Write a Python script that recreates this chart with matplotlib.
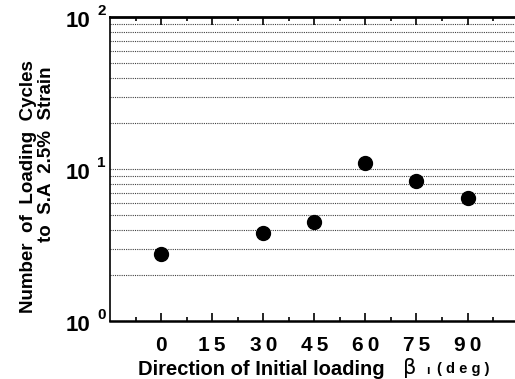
import numpy as np
import matplotlib.pyplot as plt
from matplotlib.ticker import FixedLocator
from matplotlib.transforms import offset_copy, blended_transform_factory

plt.rcParams['font.family'] = ['Liberation Sans', 'DejaVu Sans']
plt.rcParams['font.weight'] = 'bold'

# data
beta = [0, 30, 45, 60, 75, 90]
cycles = [2.76, 3.8, 4.5, 10.9, 8.35, 6.45]
xticks = [0, 15, 30, 45, 60, 75, 90]
yticks = [1, 10, 100]
yexps = ['0', '1', '2']

fig = plt.figure(figsize=(5.15, 3.79), dpi=100)
ax = fig.add_axes([0.2136, 0.153, 0.80, 0.802])

# dotted horizontal grid at every decade step
grid_vals = [m * 10 ** d for d in range(2) for m in range(1, 10)] + [100]
for g in grid_vals:
    ax.axhline(g, color='0.25', linestyle=(0, (1, 1)), linewidth=0.8, zorder=1)

ax.scatter(beta, cycles, s=100, color='black', zorder=3)

ax.set_yscale('log')
ax.set_ylim(1, 100)
ax.set_xlim(-15, 106)

# y tick labels drawn as "10" plus a separate superscript
ax.set_yticks([])
ax.yaxis.set_minor_locator(FixedLocator([]))
trans = blended_transform_factory(ax.transAxes, ax.transData)
for yv, ex in zip(yticks, yexps):
    ax.text(0, yv, '10', fontsize=16, ha='right', va='center',
            transform=offset_copy(trans, fig, x=-20, y=-4, units='dots'))
    ax.text(0, yv, ex, fontsize=11, ha='left', va='center',
            transform=offset_copy(trans, fig, x=-13, y=6, units='dots'))

ax.set_xticks(xticks, ['\u2009'.join(str(t)) for t in xticks], fontsize=15)
ax.xaxis.set_minor_locator(FixedLocator(np.arange(-7.5, 106, 15)))
ax.tick_params(axis='x', which='major', direction='in', length=6, width=1.2,
               top=True, pad=11)
ax.tick_params(axis='x', which='minor', direction='in', length=3, width=1.2,
               top=True)

ax.spines['right'].set_visible(False)
ax.spines['top'].set_linewidth(2)
ax.spines['bottom'].set_linewidth(1.8)
ax.spines['left'].set_linewidth(1.2)

# y axis title, two lines aligned at the top
fig.text(0.056, 1 - 187 / 379, 'Number  of  Loading  Cycles', fontsize=13.5,
         rotation=90, ha='center', va='center')
fig.text(0.091, 1 - 154 / 379, 'to  S.A  2.5%  Strain', fontsize=13.5,
         rotation=90, ha='center', va='center')

fig.text(0.507, 0.026, 'Direction of Initial loading', fontsize=14.5,
         ha='center', va='center')
fig.text(0.795, 0.028, '\u03b2', fontsize=15, fontweight='normal',
         ha='center', va='center', family='DejaVu Sans')
fig.text(0.83, 0.022, '\u0131', fontsize=9, ha='center', va='center')
fig.text(0.9, 0.026, '( d e g )', fontsize=10.5, ha='center', va='center')

fig.savefig('out.png', dpi=100)
